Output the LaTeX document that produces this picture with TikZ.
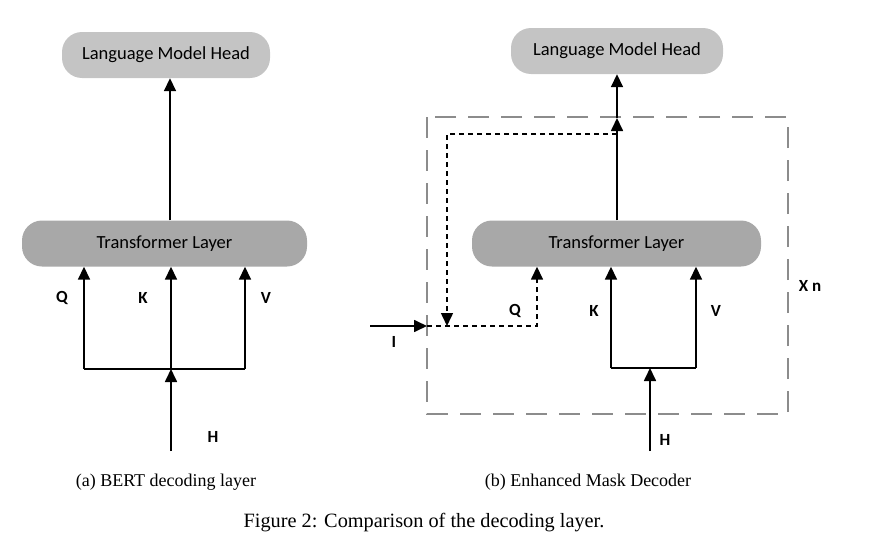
\documentclass[tikz,border=0pt]{standalone}
\usepackage{fontspec}
\setmainfont{Liberation Serif}
\newfontfamily\carlitofont{Carlito}
\usetikzlibrary{arrows.meta,calc}
\definecolor{headgray}{HTML}{C4C4C4}
\definecolor{layergray}{HTML}{A8A8A8}
\definecolor{boxgray}{HTML}{8C8C8C}
\begin{document}
\begin{tikzpicture}[x=1pt,y=-1pt,
  lmhead/.style={fill=headgray,rounded corners=20pt,minimum width=208pt,minimum height=46pt,font=\carlitofont\fontsize{18.5}{22}\selectfont},
  tlayer/.style={fill=layergray,rounded corners=20pt,minimum height=46pt,font=\carlitofont\fontsize{18.5}{22}\selectfont},
  conn/.style={line width=1.7pt},
  arr/.style={conn,-{Triangle[length=13pt,width=12pt]}},
  dashconn/.style={line width=1.5pt,dash pattern=on 5pt off 4pt},
  lab/.style={font=\carlitofont\bfseries\fontsize{17}{20}\selectfont},
  capt/.style={font=\fontsize{18}{21}\selectfont}]
\useasboundingbox (0,0) rectangle (871,541);
% ---- left
\node[lmhead] (lmA) at (166,55) {\raisebox{-2pt}{Language Model Head}};
\node[tlayer,minimum width=285pt] (tlA) at (164.5,243.5) {\raisebox{-2pt}{Transformer Layer}};
\draw[arr] (tlA.north -| 170,0) -- (lmA.south -| 170,0);
\coordinate (jqA) at (84,369);
\coordinate (jvA) at (245,369);
\coordinate (jkA) at (171,369);
\coordinate (hA) at (171,451);
\draw[conn] (jqA) -- (jvA);
\draw[arr] (jqA) -- (jqA |- tlA.south);
\draw[arr] (jkA) -- (jkA |- tlA.south);
\draw[arr] (jvA) -- (jvA |- tlA.south);
\draw[arr] (hA) -- (jkA);
\node[lab] (qA) at (62,298) {Q};
\node[lab] (kA) at (143,298) {K};
\node[lab] (vA) at (266,298) {V};
\node[lab] (hlA) at (213,437) {H};
\node[capt] (capA) at (166,482) {(a) BERT decoding layer};
% ---- right
\node[lmhead,minimum width=212pt] (lmB) at (617,51) {\raisebox{-2pt}{Language Model Head}};
\node[tlayer,minimum width=289pt] (tlB) at (616.5,243.5) {\raisebox{-2pt}{Transformer Layer}};
\draw[boxgray,line width=2.6pt,dash pattern=on 21pt off 12pt] (427,117) rectangle (788,414);
\coordinate (topB) at (617,118);
\coordinate (loopB) at (617,134);
\coordinate (loopL) at (447,134);
\coordinate (downB) at (447,326);
\coordinate (inB) at (427,326);
\coordinate (qB) at (537,326);
\coordinate (iB) at (370,326);
\draw[arr] (tlB.north -| topB) -- (topB);
\draw[arr] (topB) -- (lmB.south -| topB);
\draw[dashconn,-{Triangle[length=13pt,width=12pt]}] (loopB) -- (loopL) -- (downB);
\draw[dashconn,-{Triangle[length=13pt,width=12pt]}] (inB) -- (qB) -- (qB |- tlB.south);
\draw[arr] (iB) -- (inB);
\coordinate (jkB) at (611,368);
\coordinate (jvB) at (696,368);
\coordinate (jhB) at (650,368);
\coordinate (hB) at (650,451);
\draw[conn] (jkB) -- (jvB);
\draw[arr] (jkB) -- (jkB |- tlB.south);
\draw[arr] (jvB) -- (jvB |- tlB.south);
\draw[arr] (hB) -- (jhB);
\node[lab] (ilB) at (394,342) {I};
\node[lab] (qlB) at (515,311) {Q};
\node[lab] (klB) at (594,311) {K};
\node[lab] (vlB) at (716,311) {V};
\node[lab] (hlB) at (665,440) {H};
\node[lab] (xn) at (810,286) {X n};
\node[capt] (capB) at (588,482) {(b) Enhanced Mask Decoder};
\node[capt,font=\fontsize{20.3}{24}\selectfont] (fig) at (424,523) {Figure 2: Comparison of the decoding layer.};
\end{tikzpicture}
\end{document}
